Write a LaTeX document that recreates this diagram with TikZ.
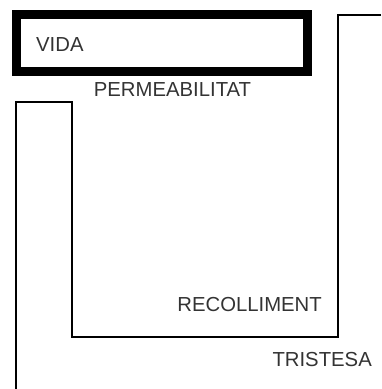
\documentclass[tikz,border=0pt]{standalone}
\usepackage{fontspec}
\setmainfont{Liberation Sans}
\begin{document}
\begin{tikzpicture}[
  x=1pt, y=-1pt,
  frame/.style={draw, line width=9pt, minimum width=291pt, minimum height=57pt, inner sep=0pt},
  word/.style={font=\fontsize{20.3}{20.3}\selectfont, inner sep=0pt, text=black!80},
  path/.style={draw, line width=1.4pt}
]
  \useasboundingbox (0,0) rectangle (381,389);

  % Vida
  \node[frame] (vida) at (162,43) {};
  \node[word, anchor=west] (vidatext) at (36,45) {VIDA};

  % Permeabilitat
  \node[word] (perm) at (172.5,90) {PERMEABILITAT};

  % Corners of the path
  \coordinate (start) at (381,15);
  \coordinate (c1) at (338,15);
  \coordinate (c2) at (338,337);
  \coordinate (c3) at (72,337);
  \coordinate (c4) at (72,102);
  \coordinate (c5) at (16,102);
  \coordinate (finish) at (16,389);

  % Path through the picture
  \draw[path] (start) -- (c1) -- (c2) -- (c3) -- (c4) -- (c5) -- (finish);

  % Recolliment and Tristesa
  \node[word, anchor=east] (recol) at (322,305) {RECOLLIMENT};
  \node[word, anchor=east] (trist) at (372,360) {TRISTESA};
\end{tikzpicture}
\end{document}
